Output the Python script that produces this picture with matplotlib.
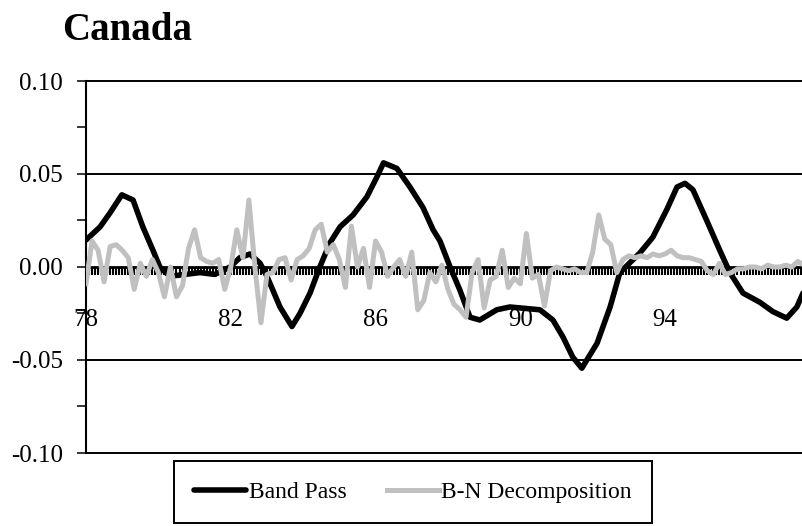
import numpy as np
import matplotlib
matplotlib.use('Agg')
from matplotlib import pyplot as plt
from matplotlib.ticker import MultipleLocator, FixedLocator, FuncFormatter

plt.rcParams['font.family'] = ['Liberation Serif', 'DejaVu Serif']
plt.rcParams['axes.unicode_minus'] = False

BP_YEARS = [1978.00, 1978.39, 1978.66, 1978.99, 1979.30, 1979.57, 1979.85, 1980.04,
            1980.32, 1980.73, 1981.15, 1981.56, 1981.98, 1982.25, 1982.53, 1982.81,
            1983.00, 1983.36, 1983.69, 1983.91, 1984.19, 1984.46, 1984.74, 1985.02,
            1985.38, 1985.76, 1986.04, 1986.22, 1986.59, 1986.95, 1987.31, 1987.59,
            1987.78, 1988.06, 1988.33, 1988.61, 1988.88, 1989.35, 1989.71, 1990.54,
            1990.90, 1991.18, 1991.45, 1991.70, 1992.12, 1992.48, 1992.75, 1993.30,
            1993.66, 1994.05, 1994.33, 1994.55, 1994.77, 1995.15, 1995.51, 1995.79,
            1996.15, 1996.62, 1996.98, 1997.36, 1997.64, 1997.81]
BP_VALUES = [0.0145, 0.0216, 0.0290, 0.0388, 0.0360, 0.0216, 0.0090, 0.0000,
             -0.0050, -0.0040, -0.0030, -0.0040, 0.0000, 0.0050, 0.0070, 0.0020,
             -0.0050, -0.0215, -0.0320, -0.0250, -0.0140, 0.0000, 0.0130, 0.0216,
             0.0280, 0.0377, 0.0485, 0.0560, 0.0530, 0.0430, 0.0320, 0.0200,
             0.0140, 0.0000, -0.0124, -0.0270, -0.0285, -0.0230, -0.0215, -0.0230,
             -0.0285, -0.0377, -0.0485, -0.0544, -0.0410, -0.0215, -0.0030, 0.0075,
             0.0160, 0.0310, 0.0430, 0.0450, 0.0415, 0.0250, 0.0090, -0.0030,
             -0.0140, -0.0190, -0.0240, -0.0275, -0.0215, -0.0140]

BN_START = 1978.0
BN_STEP_MONTHS = 2
BN_VALUES = [-0.009, 0.014, 0.009, -0.008, 0.011, 0.012, 0.009, 0.005, -0.012, 0.002,
             -0.005, 0.004, -0.003, -0.016, 0.000, -0.016, -0.010, 0.010, 0.020, 0.005,
             0.003, 0.002, 0.004, -0.012, 0.000, 0.020, 0.005, 0.036, 0.000, -0.030,
             -0.004, -0.003, 0.004, 0.005, -0.007, 0.004, 0.006, 0.010, 0.020, 0.023,
             0.008, 0.012, 0.004, -0.011, 0.022, 0.000, 0.010, -0.011, 0.014, 0.008,
             -0.005, 0.000, 0.004, -0.005, 0.008, -0.023, -0.018, -0.003, -0.008, 0.001,
             -0.012, -0.020, -0.023, -0.027, -0.003, 0.004, -0.022, -0.007, -0.005, 0.009,
             -0.011, -0.006, -0.009, 0.018, -0.006, -0.004, -0.021, -0.002, 0.000, -0.001,
             -0.002, -0.001, -0.003, -0.003, 0.008, 0.028, 0.015, 0.012, -0.003, 0.004,
             0.006, 0.005, 0.006, 0.005, 0.007, 0.006, 0.007, 0.009, 0.006, 0.005,
             0.005, 0.004, 0.003, -0.002, -0.004, 0.002, -0.004, -0.003, -0.001, -0.001,
             0.000, 0.000, -0.001, 0.001, 0.000, 0.000, 0.001, 0.000, 0.003, 0.001]

YEAR_TICKS = [1978, 1982, 1986, 1990, 1994]
YEAR_LABELS = ['78', '82', '86', '90', '94']
X_END = 1997.81

W, H = 803, 526
fig = plt.figure(figsize=(W / 100, H / 100), dpi=100)
ax = fig.add_axes([86 / W, 1 - 453 / H, 1 - 86 / W, (453 - 81) / H])

bn_years = BN_START + np.arange(len(BN_VALUES)) * BN_STEP_MONTHS / 12

# Gridlines at the major y positions (not at zero, that's the x axis) #
for v in (-0.10, -0.05, 0.05, 0.10):
    ax.axhline(v, color='black', lw=1.4, zorder=1, clip_on=False)

bp_line, = ax.plot(BP_YEARS, BP_VALUES, color='black', lw=4.0,
                   solid_joinstyle='round', solid_capstyle='round', zorder=3)
bn_line, = ax.plot(bn_years, BN_VALUES, color='#c0c0c0', lw=3.6,
                   solid_joinstyle='round', zorder=4)

ax.set_xlim(1978, X_END)
ax.set_ylim(-0.1, 0.1)

ax.spines['top'].set_visible(False)
ax.spines['right'].set_visible(False)
ax.spines['bottom'].set_position(('data', 0))
ax.spines['bottom'].set_linewidth(2.0)
ax.spines['bottom'].set_zorder(2)
ax.spines['left'].set_linewidth(1.5)

# Y axis #
ax.yaxis.set_major_locator(MultipleLocator(0.05))
ax.yaxis.set_minor_locator(MultipleLocator(0.025))
ax.yaxis.set_major_formatter(FuncFormatter(lambda v, p: f'{v:.2f}'))
ax.tick_params(axis='y', which='both', direction='out', length=6.5, width=1.1,
               labelsize=18, pad=10)

# X axis: monthly tick marks, labels every four years #
months = 1978 + np.arange(0, int((X_END - 1978) * 12) + 1) / 12
ax.xaxis.set_major_locator(FixedLocator(YEAR_TICKS))
ax.xaxis.set_minor_locator(FixedLocator(months))
ax.set_xticklabels(YEAR_LABELS)
ax.tick_params(axis='x', which='both', direction='out', length=6, width=1.5,
               labelsize=18, pad=24)

# Title #
fig.text(62 / W, 1 - 40 / H, 'Canada', fontsize=28, fontweight='bold',
         ha='left', va='baseline')

# Legend #
leg = fig.legend([bp_line, bn_line], ['Band Pass', 'B-N Decomposition'],
                 loc='center', bbox_to_anchor=(413 / W, 1 - 492 / H), ncol=2,
                 frameon=True, fancybox=False, edgecolor='black', framealpha=1,
                 fontsize=17, handlelength=2.2, handletextpad=0.1,
                 columnspacing=1.7, borderpad=0.85)
leg.get_frame().set_linewidth(1.4)

fig.savefig('out.png', dpi=100)
